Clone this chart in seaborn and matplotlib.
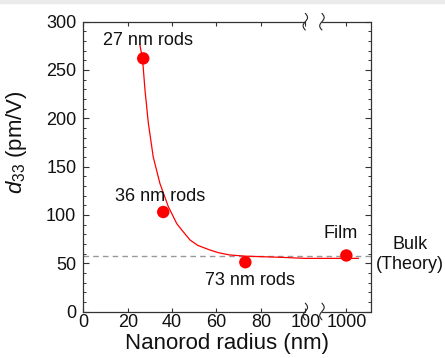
import numpy as np
import pandas as pd
import seaborn as sns
import matplotlib
matplotlib.use("Agg")
import matplotlib.pyplot as plt
import matplotlib.transforms as mtransforms
from matplotlib.patches import Rectangle
from matplotlib.ticker import MultipleLocator, NullLocator

# ---------------- data ----------------
radius = [27, 36, 73, 1000]
d33 = [262, 103, 51, 58]
point_labels = ["27 nm rods", "36 nm rods", "73 nm rods", "Film"]
bulk_theory = 57
fit_x = [25.5, 26.7, 27.8, 29.3, 31.5, 34.5, 38.3, 42.1, 44.5, 48.1, 51.5, 57, 61, 66,
         73, 81, 90, 102, 1000, 1005.5]
fit_y = [276, 261, 229, 195, 160, 132.7, 108.5, 91, 84, 74, 68.5, 63.7, 60.8, 58.5,
         57.3, 56.7, 56, 55, 55, 55]
xtick_vals = [0, 20, 40, 60, 80, 100, 1000]
xtick_labels = ["0", "20", "40", "60", "80", "100", "1000"]
ytick_vals = [0, 50, 100, 150, 200, 250, 300]

# ---------------- style ----------------
sns.set_theme(style="ticks")
plt.rcParams["font.family"] = ["Liberation Sans", "DejaVu Sans"]
plt.rcParams["mathtext.fontset"] = "custom"
plt.rcParams["mathtext.rm"] = "Liberation Sans"
plt.rcParams["mathtext.it"] = "Liberation Sans:italic"

W, H = 445, 358
fig = plt.figure(figsize=(W / 100, H / 100), dpi=100)
fig.patches.append(Rectangle((0, 1 - 3 / H), 1, 3 / H, transform=fig.transFigure,
                             color="#ebebeb", zorder=0))
ax = fig.add_axes([83.3 / W, (H - 311.5) / H, 287.7 / W, 289.8 / H])

# broken x scale: 0-100 linear, gap, then ~989-1011
B = 989.0
G = 7.5

def fwd(x):
    x = np.asarray(x, dtype=float)
    return np.where(x <= 100, x,
                    np.where(x < B, 100 + (x - 100) * G / (B - 100), x - B + 100 + G))

def inv(t):
    t = np.asarray(t, dtype=float)
    return np.where(t <= 100, t,
                    np.where(t < 100 + G, 100 + (t - 100) * (B - 100) / G, t - 100 - G + B))

ax.set_xscale("function", functions=(fwd, inv))
xmax = B + (129.6 - 100 - G)
ax.set_xlim(0, xmax)
ax.set_ylim(0, 300)

red = "#ff0000"
ax.axhline(bulk_theory, color="#999999", lw=1.0, ls=(0, (4, 3)), zorder=1)

fit_df = pd.DataFrame({"x": fit_x, "y": fit_y})
sns.lineplot(data=fit_df, x="x", y="y", sort=False, estimator=None, color=red,
             lw=0.9, ax=ax, zorder=2)

pts = pd.DataFrame({"radius": radius, "d33": d33, "label": point_labels})
sns.scatterplot(data=pts, x="radius", y="d33", color=red, s=80, edgecolor="none",
                ax=ax, zorder=3, legend=False)

offsets = [(3.2, 13.2), (-2.4, 11.5), (3.6, -13.2), (-4.3, 15.8)]
for (xv, yv, lab), off in zip(zip(radius, d33, point_labels), offsets):
    ax.annotate(lab, (xv, yv), xytext=off, textcoords="offset points",
                ha="center", va="center", fontsize=13, color="#111111")

ax.annotate("Bulk\n(Theory)", (1, bulk_theory), xycoords=("axes fraction", "data"),
            xytext=(28, 1.4), textcoords="offset points", ha="center", va="center",
            fontsize=13, color="#111111", annotation_clip=False)

# ticks
ax.set_xticks(xtick_vals)
ax.set_xticklabels(xtick_labels)
ax.xaxis.set_minor_locator(NullLocator())
ax.set_yticks(ytick_vals)
ax.yaxis.set_minor_locator(MultipleLocator(10))
ax.tick_params(axis="both", which="both", direction="in", top=True, right=True,
               colors="#333333", labelcolor="#111111", labelsize=13)
ax.tick_params(axis="x", which="major", length=3, width=0.8, pad=2)
ax.tick_params(axis="y", which="major", length=4, width=0.8, pad=5)
ax.tick_params(axis="y", which="minor", length=2.2, width=0.7)

ax.set_xlabel("Nanorod radius (nm)", fontsize=16, color="#111111")
ax.set_ylabel("$d_{33}$ (pm/V)", fontsize=16, color="#111111")
ax.yaxis.set_label_coords(-0.19, 0.585)
ax.xaxis.set_label_coords(0.5, -0.074)

# spines with a break
for side in ["left", "right"]:
    ax.spines[side].set_color("#333333")
    ax.spines[side].set_linewidth(0.9)
ax.spines["top"].set_visible(False)
ax.spines["bottom"].set_visible(False)
xt = ax.get_xaxis_transform()
for yy in (0, 1):
    ax.plot([0, 100], [yy, yy], transform=xt, color="#333333", lw=0.9, clip_on=False)
    ax.plot([B, xmax], [yy, yy], transform=xt, color="#333333", lw=0.9, clip_on=False)

# squiggle break marks
tt = np.linspace(-1, 1, 40)
sq_dx = 1.6 * np.sin(np.pi * tt)
sq_dy = 6.0 * tt
for xb in (100.3, B):
    for yy in (0, 1):
        tr = mtransforms.Affine2D().scale(fig.dpi / 72.0) + \
            mtransforms.ScaledTranslation(xb, yy, xt)
        ax.plot(sq_dx, sq_dy, transform=tr, color="#222222", lw=0.8, clip_on=False)

fig.savefig("out.png", dpi=100)
